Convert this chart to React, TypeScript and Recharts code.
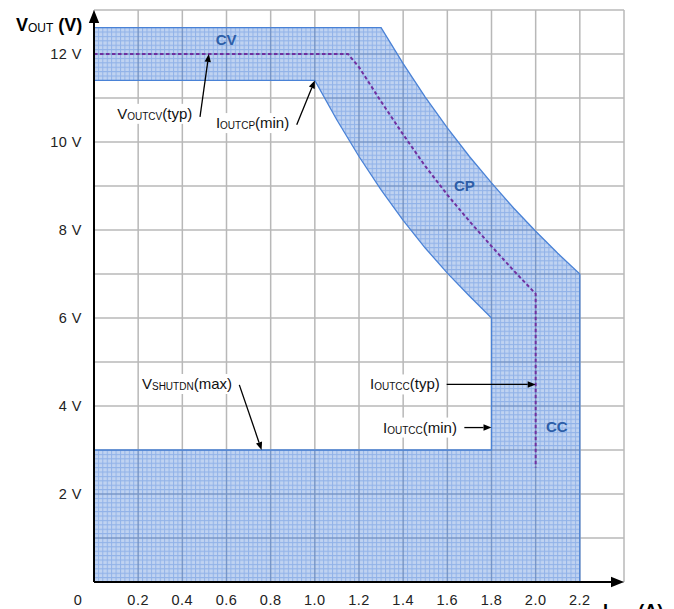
import { Area, CartesianGrid, ComposedChart, Line, ReferenceDot, ReferenceLine, XAxis, YAxis } from 'recharts'

const xTicks = [0, 0.2, 0.4, 0.6, 0.8, 1.0, 1.2, 1.4, 1.6, 1.8, 2.0, 2.2, 2.4]
const yTicks = [0, 1, 2, 3, 4, 5, 6, 7, 8, 9, 10, 11, 12, 13]

// CV -> CP -> CC limit band
const bandAmps = [0, 1.0, 1.1, 1.2, 1.3, 1.4, 1.5, 1.6, 1.7, 1.8, 1.8, 1.9, 2.0, 2.1, 2.2]
const bandLow = [11.4, 11.4, 10.5, 9.67, 8.91, 8.22, 7.59, 7.02, 6.5, 6.0, 3, 3, 3, 3, 3]
const bandHigh = [12.6, 12.6, 12.6, 12.6, 12.6, 11.78, 11.02, 10.32, 9.67, 9.07, 9.07, 8.5, 7.97, 7.47, 7.0]

// shutdown region
const shutdownAmps = [0, 2.2]
const shutdownVolts = [3, 3]

// typical curve
const typAmps = [0, 1.15, 1.2, 1.3, 1.4, 1.5, 1.6, 1.7, 1.8, 1.9, 2.0, 2.0]
const typVolts = [12, 12, 11.7, 10.92, 10.17, 9.45, 8.8, 8.2, 7.63, 7.08, 6.55, 2.6]

// annotations: text centre, arrow tail, arrow tip
const noteMain = ['V', 'I', 'I', 'I', 'V']
const noteSub = ['OUTCV', 'OUTCP', 'OUTCC', 'OUTCC', 'SHUTDN']
const noteRest = ['(typ)', '(min)', '(typ)', '(min)', '(max)']
const noteX = [0.275, 0.718, 1.408, 1.476, 0.421]
const noteY = [10.64, 10.43, 4.49, 3.51, 4.5]
const tailX = [0.48, 0.918, 1.597, 1.677, 0.658]
const tailY = [10.57, 10.39, 4.49, 3.51, 4.48]
const tipX = [0.52, 1.0, 2.0, 1.8, 0.759]
const tipY = [12.0, 11.4, 4.49, 3.51, 3.0]

const regionNames = ['CV', 'CP', 'CC']
const regionX = [0.598, 1.677, 2.096]
const regionY = [12.32, 9.02, 3.53]

const font = "'Liberation Sans', Arial, sans-serif"

const bandData = bandAmps.map((x, i) => ({ x, lo: bandLow[i], hi: bandHigh[i] }))
const shutdownData = shutdownAmps.map((x, i) => ({ x, lo: 0, hi: shutdownVolts[i] }))
const typData = typAmps.map((x, i) => ({ x, v: typVolts[i] }))

const innerIdx = bandLow.findIndex((v) => v === shutdownVolts[0])
const outlineData = [
  { x: 0, v: 0 },
  { x: shutdownAmps[0], v: shutdownVolts[0] },
  ...bandAmps.slice(0, innerIdx + 1).map((x, i) => ({ x, v: bandLow[i] })).reverse(),
  ...bandAmps.map((x, i) => ({ x, v: bandHigh[i] })),
  { x: shutdownAmps[1], v: 0 },
  { x: 0, v: 0 },
]

const XTick = ({ x, y, payload }: any) => {
  const v = payload.value
  if (v > 2.21) return <g />
  return (
    <text x={v === 0 ? x - 16 : x} y={y + 23} textAnchor='middle' fontSize={14.5} fill='#222' fontFamily={font} letterSpacing={0.5}>
      {v === 0 ? '0' : v.toFixed(1)}
    </text>
  )
}

const YTick = ({ x, y, payload }: any) => {
  const v = payload.value
  if (v === 0 || v % 2 !== 0) return <g />
  return (
    <text x={x} y={y + 5} textAnchor='end' fontSize={14.5} fill='#222' fontFamily={font} letterSpacing={0.5}>
      {v} V
    </text>
  )
}

const Arrow = (size: number, width: number) => (props: any) => {
  const { x1, y1, x2, y2 } = props
  const a = Math.atan2(y2 - y1, x2 - x1)
  const bx = x2 - size * Math.cos(a)
  const by = y2 - size * Math.sin(a)
  const nx = -Math.sin(a) * (size * 0.4)
  const ny = Math.cos(a) * (size * 0.4)
  return (
    <g>
      <line x1={x1} y1={y1} x2={bx} y2={by} stroke='#000' strokeWidth={width} />
      <polygon points={`${x2},${y2} ${bx + nx},${by + ny} ${bx - nx},${by - ny}`} fill='#000' />
    </g>
  )
}

const NoteLabel = (i: number) => (props: any) => {
  const { cx, cy } = props
  const w = (noteMain[i].length + noteRest[i].length) * 7.4 + noteSub[i].length * 6.4
  return (
    <g>
      <rect x={cx - w / 2 - 2} y={cy - 10} width={w + 4} height={20} fill='#fff' />
      <text x={cx} y={cy + 5} textAnchor='middle' fontSize={15} fill='#111' fontFamily={font}>
        <tspan>{noteMain[i]}</tspan>
        <tspan fontSize={10} dy={1}>{noteSub[i]}</tspan>
        <tspan dy={-1}>{noteRest[i]}</tspan>
      </text>
    </g>
  )
}

const RegionLabel = (i: number) => (props: any) => (
  <text x={props.cx} y={props.cy + 5.5} textAnchor='middle' fontSize={15} fontWeight='bold' fill='#2d5ea8' fontFamily={font}>
    {regionNames[i]}
  </text>
)

const YTitle = (props: any) => {
  const { viewBox } = props
  return (
    <text x={16} y={viewBox.y + 20.5} fontSize={18} fontWeight='bold' fill='#000' fontFamily={font}>
      <tspan>V</tspan>
      <tspan fontSize={12} fontWeight='normal' dy={1}>OUT</tspan>
      <tspan dy={-1}> (V)</tspan>
    </text>
  )
}

const XTitle = (props: any) => {
  const { viewBox } = props
  return (
    <text x={viewBox.x + viewBox.width - 21} y={viewBox.y + 35} fontSize={18} fontWeight='bold' fill='#000' fontFamily={font}>
      <tspan>I</tspan>
      <tspan fontSize={12} fontWeight='normal' dy={1}>OUT</tspan>
      <tspan dy={-1}> (A)</tspan>
    </text>
  )
}

export default function App() {
  return (
    <div style={{ position: 'absolute', left: 0, top: 0, background: '#fff' }}>
      <ComposedChart width={674} height={609} margin={{ top: 10, right: 50, bottom: 0, left: 0 }}>
        <defs>
          <pattern id='minorGrid' patternUnits='userSpaceOnUse' x={93.5} y={9.5} width={530 / 120} height={4.4}>
            <rect x={0} y={0} width={530 / 120} height={4.4} fill='rgba(79,134,217,0.36)' />
            <path d={`M0.5 0 V4.4 M0 0.5 H${530 / 120}`} stroke='rgba(60,120,215,0.36)' strokeWidth={1} />
          </pattern>
        </defs>
        <CartesianGrid stroke='#b8b8b8' strokeWidth={1.5} />
        <XAxis
          type='number'
          dataKey='x'
          domain={[0, 2.4]}
          ticks={xTicks}
          interval={0}
          height={27}
          axisLine={false}
          tickLine={false}
          tickSize={0}
          tickMargin={0}
          tick={<XTick />}
          label={{ content: XTitle }}
        />
        <YAxis
          type='number'
          domain={[0, 13]}
          ticks={yTicks}
          interval={0}
          width={94}
          axisLine={false}
          tickLine={false}
          tickSize={0}
          tickMargin={12}
          tick={<YTick />}
          label={{ content: YTitle }}
        />
        <Area
          data={shutdownData}
          dataKey={(d: any) => [d.lo, d.hi]}
          type='linear'
          fill='url(#minorGrid)'
          fillOpacity={1}
          stroke='none'
          isAnimationActive={false}
        />
        <Area
          data={bandData}
          dataKey={(d: any) => [d.lo, d.hi]}
          type='linear'
          fill='url(#minorGrid)'
          fillOpacity={1}
          stroke='none'
          isAnimationActive={false}
        />
        <Line
          data={outlineData}
          dataKey='v'
          type='linear'
          stroke='#4a82d6'
          strokeWidth={1.3}
          dot={false}
          activeDot={false}
          isAnimationActive={false}
        />
        <Line
          data={typData}
          dataKey='v'
          type='linear'
          stroke='#7030a0'
          strokeWidth={2}
          strokeDasharray='3.5 2.5'
          dot={false}
          activeDot={false}
          isAnimationActive={false}
        />
        {noteMain.map((_, i) => (
          <ReferenceDot key={'n' + i} x={noteX[i]} y={noteY[i]} r={1} shape={NoteLabel(i)} />
        ))}
        {noteMain.map((_, i) => (
          <ReferenceLine
            key={'a' + i}
            segment={[
              { x: tailX[i], y: tailY[i] },
              { x: tipX[i], y: tipY[i] },
            ]}
            shape={Arrow(8, 1.3)}
          />
        ))}
        {regionNames.map((_, i) => (
          <ReferenceDot key={'r' + i} x={regionX[i]} y={regionY[i]} r={1} shape={RegionLabel(i)} />
        ))}
        <ReferenceLine
          segment={[
            { x: 0, y: 0 },
            { x: 0, y: 13 },
          ]}
          shape={Arrow(13, 2)}
        />
        <ReferenceLine
          segment={[
            { x: 0, y: 0 },
            { x: 2.4, y: 0 },
          ]}
          shape={Arrow(13, 2)}
        />
      </ComposedChart>
    </div>
  )
}
